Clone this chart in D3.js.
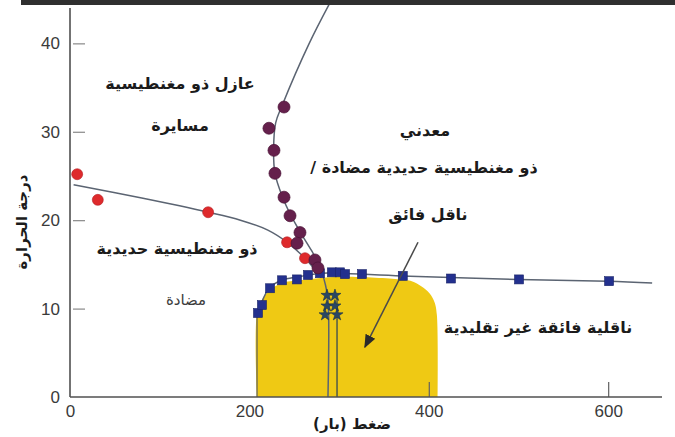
<!DOCTYPE html>
<html>
<head>
<meta charset="utf-8">
<script src="https://cdn.jsdelivr.net/npm/d3@7"></script>
<style>
  html, body { margin: 0; padding: 0; background: #fff; }
  svg { display: block; }
  .lbl { font-family: "DejaVu Sans", sans-serif; font-weight: bold; fill: #1b1b1b; }
  .tick text { font-family: "Liberation Sans", Arial, sans-serif; font-size: 17px; fill: #3a3a3a; }
</style>
</head>
<body>
<svg id="chart" width="675" height="437"></svg>
<script>
// Pressure (bar) vs temperature phase diagram
const xTicks = [0, 200, 400, 600];
const yTicks = [0, 10, 20, 30, 40];

// Paramagnetic insulator boundary (measured points and guide line)
const paraPoints = [
  [238.6, 32.8], [221.8, 30.4], [227.4, 27.9], [228.5, 25.3], [238.6, 22.6],
  [245.3, 20.5], [256.4, 18.6], [253.1, 17.4], [273.1, 15.5], [276.5, 14.6]
];
const paraLine = [
  [292, 45], [266.7, 40], [236.6, 33.0], [229.3, 31], [227, 28], [228.5, 25.3],
  [237, 22.6], [246, 20.6], [257, 18.6], [269, 16.6], [278, 14.9], [284.5, 12.8],
  [287.6, 11], [287.6, 0]
];

// Antiferromagnetic insulator boundary
const afmPoints = [[8, 25.2], [31, 22.3], [154, 20.9], [242, 17.5], [262, 15.7]];
const afmLine = [
  [4, 24.0], [80, 22.5], [154, 20.9], [190, 20.0], [220, 18.9], [242, 17.5],
  [262, 15.7], [280, 13.5]
];

// Superconducting transition
const scPoints = [
  [209.6, 9.5], [214, 10.4], [223, 12.3], [236.4, 13.2], [253, 13.3], [265.3, 13.8],
  [278.7, 14.0], [292, 14.1], [301, 14.1], [306.6, 13.9], [325.5, 13.9],
  [371, 13.7], [424.7, 13.4], [500.6, 13.3], [601, 13.1]
];
const scLine = [
  [209, 9.0], [213, 10.5], [222, 12.3], [236, 13.2], [255, 13.6], [280, 14.0],
  [300, 14.0], [370, 13.7], [500, 13.3], [600, 13.1], [649, 12.9]
];

// Points near the second boundary branch
const crossPoints = [
  [286.5, 11.5], [295.4, 11.5], [286.5, 10.3], [295.4, 10.3], [284.3, 9.3], [297.7, 9.3]
];
const branchLine = [[297.7, 11.2], [297.7, 0]];
const edgeLine = [[208.5, 0], [208.5, 9.4]];

// Superconducting dome outline
const dome = [
  [208.5, 0], [208.5, 9.6], [214, 11.0], [223, 12.1], [236.4, 12.9], [256.4, 13.2],
  [301, 13.6], [368, 13.3], [381, 13.1], [392, 12.5], [401, 11.7], [406.5, 10.7],
  [409, 9.3], [410, 0]
];

const arrowFrom = [388, 17.5];
const arrowTo = [328.8, 5.65];

const labels = [
  { text: "عازل ذو مغنطيسية", x: 180, y: 83, size: 16 },
  { text: "مسايرة", x: 180, y: 125, size: 16 },
  { text: "معدني", x: 425, y: 130, size: 16 },
  { text: "ذو مغنطيسية حديدية مضادة /", x: 424, y: 167, size: 16 },
  { text: "ناقل فائق", x: 428, y: 214, size: 16 },
  { text: "ذو مغنطيسية حديدية", x: 177, y: 248, size: 16 },
  { text: "مضادة", x: 186, y: 300, size: 15, light: true },
  { text: "ناقلية فائقة غير تقليدية", x: 538, y: 327, size: 16 }
];

const xTitle = "ضغط (بار)";
const yTitle = "درجة الحرارة";

const svg = d3.select("#chart");

const x = d3.scaleLinear().domain([0, 660]).range([70, 662]);
const y = d3.scaleLinear().domain([0, 44]).range([397, 8]);

// dark band along the top edge
svg.append("rect").attr("x", 21).attr("y", 0).attr("width", 654).attr("height", 5)
  .attr("fill", "#2f2f2f");

svg.append("defs").append("clipPath").attr("id", "plotClip")
  .append("rect").attr("x", 60).attr("y", 5).attr("width", 615).attr("height", 400);

svg.select("defs").append("marker")
  .attr("id", "arrowHead").attr("viewBox", "0 0 10 10")
  .attr("refX", 9).attr("refY", 5)
  .attr("markerWidth", 9).attr("markerHeight", 9)
  .attr("orient", "auto")
  .append("path").attr("d", "M0,1 L10,5 L0,9 Z").attr("fill", "#2a2a2a");

const plot = svg.append("g").attr("clip-path", "url(#plotClip)");

const straight = d3.line().x(d => x(d[0])).y(d => y(d[1]));
const smooth = d3.line().x(d => x(d[0])).y(d => y(d[1])).curve(d3.curveCatmullRom.alpha(0.5));

// dome
plot.append("path").attr("d", smooth(dome) + "Z")
  .attr("fill", "#efc914").attr("stroke", "none");

// guide lines
const lineColor = "#5b6472";
plot.append("path").attr("d", straight(edgeLine)).attr("stroke", "#6a6a5a").attr("stroke-width", 1.3).attr("fill", "none");
plot.append("path").attr("d", smooth(afmLine)).attr("stroke", lineColor).attr("stroke-width", 1.5).attr("fill", "none");
plot.append("path").attr("d", smooth(paraLine)).attr("stroke", lineColor).attr("stroke-width", 1.5).attr("fill", "none");
plot.append("path").attr("d", straight(branchLine)).attr("stroke", "#4f5a48").attr("stroke-width", 1.5).attr("fill", "none");
plot.append("path").attr("d", smooth(scLine)).attr("stroke", lineColor).attr("stroke-width", 1.5).attr("fill", "none");

// arrow
svg.append("line")
  .attr("x1", x(arrowFrom[0])).attr("y1", y(arrowFrom[1]))
  .attr("x2", x(arrowTo[0])).attr("y2", y(arrowTo[1]))
  .attr("stroke", "#4a4a4a").attr("stroke-width", 1.5)
  .attr("marker-end", "url(#arrowHead)");

// markers
plot.selectAll(".sq").data(scPoints).join("rect")
  .attr("x", d => x(d[0]) - 4.5).attr("y", d => y(d[1]) - 4.5)
  .attr("width", 9).attr("height", 9)
  .attr("fill", "#23308e").attr("stroke", "#1a2468").attr("stroke-width", 0.6);

plot.selectAll(".afm").data(afmPoints).join("circle")
  .attr("cx", d => x(d[0])).attr("cy", d => y(d[1])).attr("r", 5.5)
  .attr("fill", "#de2a2c").attr("stroke", "#b31c22").attr("stroke-width", 0.6);

plot.selectAll(".para").data(paraPoints).join("circle")
  .attr("cx", d => x(d[0])).attr("cy", d => y(d[1])).attr("r", 6)
  .attr("fill", "#65204c").attr("stroke", "#4a1236").attr("stroke-width", 0.7);

plot.selectAll(".cross").data(crossPoints).join("path")
  .attr("transform", d => `translate(${x(d[0])},${y(d[1])})`)
  .attr("d", d3.symbol().type(d3.symbolStar).size(45))
  .attr("fill", "#2a4763").attr("stroke", "#1d3347").attr("stroke-width", 0.6);

// axes
const axisColor = "#505050";
const yAxis = svg.append("g").attr("transform", `translate(${x(0)},0)`)
  .call(d3.axisLeft(y).tickValues(yTicks).tickSize(-13).tickPadding(10).tickFormat(d3.format("d")));
yAxis.select(".domain").remove();
yAxis.selectAll(".tick line").attr("stroke", "#888").attr("stroke-width", 1.2)
  .attr("x1", 3).attr("x2", 15);
yAxis.selectAll(".tick").filter(d => d === 0).select("line").remove();
svg.append("line").attr("x1", x(0)).attr("x2", x(0)).attr("y1", y(0)).attr("y2", 8)
  .attr("stroke", axisColor).attr("stroke-width", 1.6);

const xAxis = svg.append("g").attr("transform", `translate(0,${y(0)})`)
  .call(d3.axisBottom(x).tickValues(xTicks).tickSize(-15).tickPadding(8).tickFormat(d3.format("d")));
xAxis.select(".domain").remove();
xAxis.selectAll(".tick line").attr("stroke", "#606060").attr("stroke-width", 1.2);
xAxis.selectAll(".tick").filter(d => d < 400).select("line").remove();
svg.append("line").attr("x1", x(0)).attr("x2", 662).attr("y1", y(0)).attr("y2", y(0))
  .attr("stroke", axisColor).attr("stroke-width", 1.6);

// region labels
svg.selectAll(".lbl").data(labels).join("text")
  .attr("class", "lbl")
  .attr("x", d => d.x).attr("y", d => d.y)
  .attr("text-anchor", "middle").attr("dominant-baseline", "central")
  .attr("direction", "rtl")
  .style("font-size", d => d.size + "px")
  .style("font-weight", d => d.light ? "normal" : "bold")
  .style("fill", d => d.light ? "#3c3c3c" : "#1b1b1b")
  .text(d => d.text);

// axis titles
svg.append("text").attr("class", "lbl")
  .attr("x", 352).attr("y", 424)
  .attr("text-anchor", "middle").attr("dominant-baseline", "central")
  .style("font-size", "15px")
  .text(xTitle);

svg.append("text").attr("class", "lbl")
  .attr("transform", "translate(22,222) rotate(-90)")
  .attr("text-anchor", "middle").attr("dominant-baseline", "central")
  .style("font-size", "15px")
  .text(yTitle);
</script>
</body>
</html>
